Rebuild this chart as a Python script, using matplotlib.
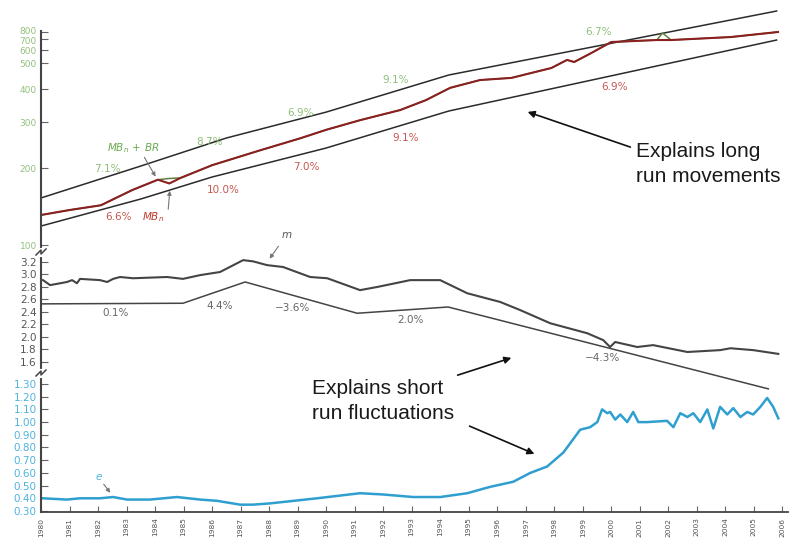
import numpy as np
import matplotlib
matplotlib.use("Agg")
import matplotlib.pyplot as plt
import matplotlib.transforms as mtransforms

plt.rcParams["font.family"] = ["DejaVu Sans"]

# ---------------- data ----------------
# Nominal monetary base MB_n and MB_n + borrowed reserves (billions of $)
mb_years = [1980.0, 1981.0, 1982.1, 1983.2, 1984.1, 1984.5, 1984.9, 1986.0,
            1987.7, 1989.1, 1990.0, 1991.2, 1992.6, 1993.5, 1994.35, 1995.4,
            1996.5, 1997.9, 1998.45, 1998.7, 1999.3, 2000.0, 2001.6, 2001.8,
            2002.1, 2004.2, 2005.85]
mb_vals = [131, 137, 143, 164, 180, 174, 183, 205,
           234, 260, 280, 305, 333, 363, 404, 432,
           440, 479, 522, 507, 575, 671, 690, 690,
           690, 727, 800]
mbbr_vals = [131, 137, 143, 164, 180, 182, 183, 205,
             234, 260, 280, 305, 333, 363, 404, 432,
             440, 479, 522, 507, 575, 671, 690, 785,
             690, 727, 800]

# Trend bands for the monetary base
upper_years = [1980.0, 1983.5, 1986.5, 1990.0, 1994.3, 2005.8]
upper_vals = [152.7, 203.5, 260.5, 327.0, 451.0, 1104.0]
lower_years = [1980.0, 1983.5, 1986.0, 1990.0, 1994.3, 2005.8]
lower_vals = [118.6, 151.3, 184.4, 238.5, 330.1, 690.0]

# Money multiplier m
m_years = [1980.07, 1980.32, 1980.91, 1981.09, 1981.26, 1981.37, 1982.07, 1982.32,
           1982.53, 1982.77, 1983.23, 1984.42, 1984.98, 1985.58, 1986.28, 1987.09,
           1987.44, 1987.93, 1988.49, 1989.44, 1990.04, 1991.19, 1991.79, 1992.95,
           1994.0, 1994.95, 1996.11, 1996.81, 1997.86, 1999.16, 1999.72, 1999.96,
           2000.14, 2000.91, 2001.47, 2002.67, 2003.82, 2004.18, 2004.98, 2005.86]
m_vals = [2.91, 2.83, 2.88, 2.91, 2.86, 2.93, 2.91, 2.88,
          2.93, 2.96, 2.94, 2.96, 2.93, 2.99, 3.04, 3.23,
          3.21, 3.15, 3.12, 2.96, 2.94, 2.75, 2.80, 2.91,
          2.91, 2.70, 2.56, 2.43, 2.22, 2.06, 1.95, 1.84,
          1.92, 1.84, 1.87, 1.76, 1.79, 1.82, 1.79, 1.73]
m_trend_years = [1980.03, 1984.98, 1987.16, 1991.09, 1994.28, 2005.51]
m_trend_vals = [2.53, 2.54, 2.88, 2.38, 2.48, 1.17]

# Currency ratio e
e_years = [1980.07, 1980.91, 1981.37, 1982.07, 1982.53, 1983.02, 1983.82, 1984.77,
           1985.58, 1986.18, 1986.98, 1987.44, 1988.04, 1989.68, 1991.19, 1992.0,
           1993.05, 1994.0, 1994.95, 1995.75, 1996.56, 1997.16, 1997.75, 1998.32,
           1998.91, 1999.26, 1999.51, 1999.68, 1999.86, 1999.96, 2000.14, 2000.32,
           2000.56, 2000.77, 2000.95, 2001.26, 2001.96, 2002.18, 2002.42, 2002.67,
           2002.88, 2003.12, 2003.37, 2003.58, 2003.82, 2004.07, 2004.28, 2004.53,
           2004.77, 2004.98, 2005.23, 2005.47, 2005.68, 2005.86]
e_vals = [0.40, 0.39, 0.40, 0.40, 0.41, 0.39, 0.39, 0.41,
          0.39, 0.38, 0.35, 0.35, 0.36, 0.40, 0.44, 0.43,
          0.41, 0.41, 0.44, 0.49, 0.53, 0.60, 0.65, 0.76,
          0.94, 0.96, 1.00, 1.10, 1.07, 1.08, 1.02, 1.06,
          1.00, 1.08, 1.00, 1.00, 1.01, 0.96, 1.07, 1.04,
          1.07, 1.00, 1.10, 0.95, 1.12, 1.06, 1.11, 1.04,
          1.08, 1.06, 1.12, 1.19, 1.12, 1.03]

top_ticks = [100, 200, 300, 400, 500, 600, 700, 800]
mid_ticks = [1.6, 1.8, 2.0, 2.2, 2.4, 2.6, 2.8, 3.0, 3.2]
bot_ticks = [0.30, 0.40, 0.50, 0.60, 0.70, 0.80, 0.90, 1.00, 1.10, 1.20, 1.30]
year_ticks = list(range(1980, 2007))

top_growth_upper = ["7.1%", "8.7%", "6.9%", "9.1%", "6.7%"]
top_growth_lower = ["6.6%", "10.0%", "7.0%", "9.1%", "6.9%"]
m_growth = ["0.1%", "4.4%", "\u22123.6%", "2.0%", "\u22124.3%"]

# ---------------- layout helpers ----------------
W, H = 790, 539
fig = plt.figure(figsize=(W / 100, H / 100), dpi=100)


def rect(x0, y0, x1, y1):
    return [x0 / W, 1 - y1 / H, (x1 - x0) / W, (y1 - y0) / H]


def P(x, y):
    return (x / W, 1 - y / H)


# log-like money axis with hand-drawn tick spacing
LOG_KNOTS = np.log10([10, 100, 200, 300, 400, 500, 600, 700, 800, 10000])
H_KNOTS = np.array([-256, 0, 77, 123, 156, 182, 195, 206, 213, 377.5])


def fwd(v):
    v = np.asarray(v, dtype=float)
    return np.interp(np.log10(np.clip(v, 1e-6, None)), LOG_KNOTS, H_KNOTS)


def inv(h):
    h = np.asarray(h, dtype=float)
    return 10 ** np.interp(h, H_KNOTS, LOG_KNOTS)


SPINE = "#444444"
ax_top = fig.add_axes(rect(41, 5, 788, 252))
ax_mid = fig.add_axes(rect(41, 252, 788, 373))
ax_bot = fig.add_axes(rect(41, 373, 788, 512))

for ax in (ax_top, ax_mid, ax_bot):
    ax.set_facecolor("none")
    ax.set_xlim(1980, 2006.2)
    for s in ("top", "right"):
        ax.spines[s].set_visible(False)
    ax.spines["left"].set_color(SPINE)
    ax.spines["left"].set_linewidth(1.5)
    ax.tick_params(axis="y", direction="in", length=5, width=0.8,
                   color="#666666", labelsize=7.5, pad=3)
for ax in (ax_top, ax_mid):
    ax.spines["bottom"].set_visible(False)
    ax.tick_params(axis="x", bottom=False, labelbottom=False)

# ---- top panel: monetary base ----
ax_top.set_yscale("function", functions=(fwd, inv))
ax_top.set_ylim(93.9, 1211)
ax_top.set_yticks(top_ticks)
ax_top.set_yticklabels([str(t) for t in top_ticks], color="#93c07c")
ax_top.yaxis.set_minor_locator(matplotlib.ticker.NullLocator())
ax_top.tick_params(axis="y", labelsize=6.5)
ax_top.spines["left"].set_bounds(93.9, 815)
# nudge the crowded 700/800 labels apart a little
for tick, value in zip(ax_top.yaxis.get_major_ticks(), top_ticks):
    dy = {800: 1.3, 700: -1.0}.get(value, 0.0)
    if dy:
        lbl = tick.label1
        lbl.set_transform(lbl.get_transform() + mtransforms.ScaledTranslation(
            0, dy / 100, fig.dpi_scale_trans))

ax_top.plot(upper_years, upper_vals, color="#2b2b2b", lw=1.1)
ax_top.plot(lower_years, lower_vals, color="#2b2b2b", lw=1.1)
ax_top.plot(mb_years, mbbr_vals, color="#5e7f3c", lw=1.1)
ax_top.plot(mb_years, mb_vals, color="#8b2020", lw=1.5)

# ---- middle panel: money multiplier ----
ax_mid.set_ylim(1.424, 3.36)
ax_mid.set_yticks(mid_ticks)
ax_mid.set_yticklabels([f"{t:.1f}" for t in mid_ticks], color="#555555")
ax_mid.plot(m_years, m_vals, color="#444444", lw=1.5)
ax_mid.plot(m_trend_years, m_trend_vals, color="#444444", lw=1.1, clip_on=False)

# ---- bottom panel: currency ratio ----
ax_bot.set_ylim(0.2921, 1.3866)
ax_bot.set_yticks(bot_ticks)
ax_bot.set_yticklabels([f"{t:.2f}" for t in bot_ticks], color="#4fb3dd")
ax_bot.plot(e_years, e_vals, color="#2f9fd0", lw=1.8)
ax_bot.spines["bottom"].set_color(SPINE)
ax_bot.spines["bottom"].set_linewidth(1.3)
ax_bot.set_xticks(year_ticks)
ax_bot.set_xticklabels([str(y) for y in year_ticks], rotation=90,
                       fontsize=5.4, color="#555555")
ax_bot.tick_params(axis="x", direction="in", length=4, width=0.8,
                   color="#666666", pad=4)

# ---- axis break marks on the left spine ----
for yb in (252, 373):
    fig.add_artist(plt.Line2D([41 / W, 41 / W], [1 - (yb - 2.5) / H, 1 - (yb + 2.5) / H],
                              transform=fig.transFigure, color="white", lw=3))
    xs = [36, 41, 41, 46]
    ys = [yb + 3, yb - 2, yb + 2, yb - 3]
    fig.add_artist(plt.Line2D([x / W for x in xs], [1 - y / H for y in ys],
                              transform=fig.transFigure, color=SPINE, lw=1.1))

# ---- growth-rate labels ----
for txt, (x, y) in zip(top_growth_upper,
                       [(107, 169), (209, 142), (300, 113), (396, 80), (598, 32)]):
    fig.text(*P(x, y), txt, color="#8fbf7a", fontsize=7.5, ha="center", va="center")
for txt, (x, y) in zip(top_growth_lower,
                       [(119, 217), (223, 190), (306, 167), (406, 138), (615, 87)]):
    fig.text(*P(x, y), txt, color="#c9554f", fontsize=7.5, ha="center", va="center")
for txt, (x, y) in zip(m_growth,
                       [(116, 313), (220, 306), (292, 308), (410, 320), (602, 358)]):
    fig.text(*P(x, y), txt, color="#666666", fontsize=7.5, ha="center", va="center")

# ---- series labels ----
small_arrow = dict(arrowstyle="-|>", color="#777777", lw=0.8, mutation_scale=6)
fig.text(*P(133, 148), r"$MB_n\,+\,BR$", color="#6aa84f", fontsize=7.5,
         ha="center", va="center")
fig.text(*P(153, 217), r"$MB_n$", color="#c0392b", fontsize=7.5,
         ha="center", va="center")
fig.text(*P(287, 235), r"$m$", color="#555555", fontsize=7.5, ha="center", va="center")
fig.text(*P(99, 477), r"$e$", color="#4fb3dd", fontsize=7.5, ha="center", va="center")
for tail, tip in [((143, 155), (157, 179)), ((168, 212), (170, 188)),
                  ((280, 244), (268, 261)), ((102, 482), (112, 495))]:
    fig.add_artist(matplotlib.patches.FancyArrowPatch(
        P(*tail), P(*tip), transform=fig.transFigure, **small_arrow))

# ---- explanatory notes ----
big_arrow = dict(arrowstyle="-|>", color="#111111", lw=1.2, mutation_scale=10)
fig.text(*P(636, 164), "Explains long\nrun movements", fontsize=15,
         family="Liberation Sans", color="#1a1a1a", ha="left", va="center",
         linespacing=1.4)
fig.add_artist(matplotlib.patches.FancyArrowPatch(
    P(633, 148), P(525, 111), transform=fig.transFigure, **big_arrow))

fig.text(*P(312, 401), "Explains short\nrun fluctuations", fontsize=15,
         family="Liberation Sans", color="#1a1a1a", ha="left", va="center",
         linespacing=1.4)
fig.add_artist(matplotlib.patches.FancyArrowPatch(
    P(455, 376), P(514, 357), transform=fig.transFigure, **big_arrow))
fig.add_artist(matplotlib.patches.FancyArrowPatch(
    P(467, 425), P(537, 455), transform=fig.transFigure, **big_arrow))

fig.savefig("out.png", dpi=100)
